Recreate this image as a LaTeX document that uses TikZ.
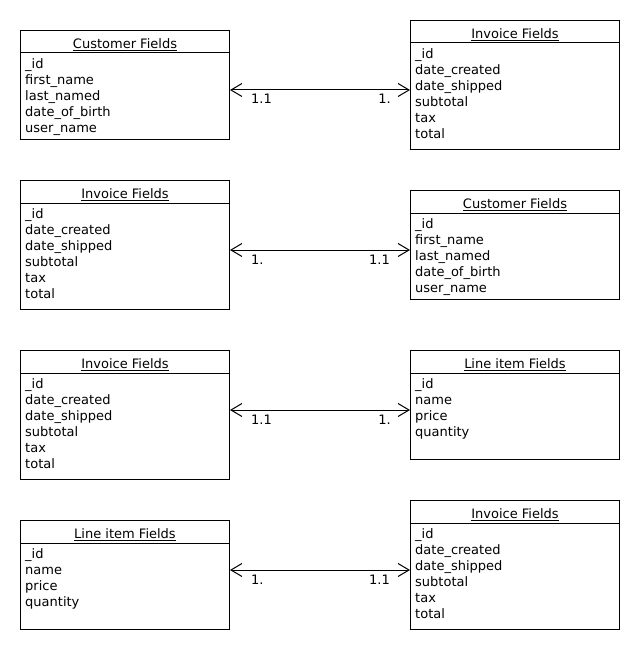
\documentclass[tikz,border=0pt]{standalone}
\usepackage{fontspec}
\setmainfont{DejaVu Sans}
\usetikzlibrary{arrows.meta,calc}
\newcommand\entitybox[6]{%
  \node[box, minimum height=#4pt] (#1) at (#2,#3) {};
  \draw[sepline] ($(#1.north west)+(0,23)$) -- ($(#1.north east)+(0,23)$);
  \node[titletext, anchor=base] (#1t) at ($(#1.north)+(0,18.5)$) {\underline{#5}};
  \node[bodytext, anchor=north west] (#1b) at ($(#1.north west)+(5,28.1)$) {#6};
}
\begin{document}
\begin{tikzpicture}[x=1pt,y=-1pt,
  box/.style={draw, line width=1pt, inner sep=0pt, anchor=north west, minimum width=209pt},
  sepline/.style={line width=1pt},
  titletext/.style={font=\fontsize{13}{16}\selectfont, inner sep=0pt},
  bodytext/.style={font=\fontsize{13}{16}\selectfont, inner sep=0pt, align=left},
  rel/.style={line width=1pt, {Straight Barb[length=11pt,width=13pt]}-{Straight Barb[length=11pt,width=13pt]}},
  card/.style={font=\fontsize{13}{16}\selectfont, inner sep=0pt}
]
\fill[white] (0,0) rectangle (640,650);
\useasboundingbox (0,0) rectangle (640,650);

\def\invoice{\_id\\date\_created\\date\_shipped\\subtotal\\tax\\total}
\def\customer{\_id\\first\_name\\last\_named\\date\_of\_birth\\user\_name}
\def\lineitem{\_id\\name\\price\\quantity}

% row 1
\entitybox{c1}{20}{30}{109}{Customer Fields}{\customer}
\entitybox{i1}{410}{20}{129}{Invoice Fields}{\invoice}
% row 2
\entitybox{i2}{20}{180}{129}{Invoice Fields}{\invoice}
\entitybox{c2}{410}{190}{109}{Customer Fields}{\customer}
% row 3
\entitybox{i3}{20}{350}{129}{Invoice Fields}{\invoice}
\entitybox{l3}{410}{350}{109}{Line item Fields}{\lineitem}
% row 4
\entitybox{l4}{20}{520}{109}{Line item Fields}{\lineitem}
\entitybox{i4}{410}{500}{129}{Invoice Fields}{\invoice}

\coordinate (y1) at (0,90);
\coordinate (y2) at (0,250);
\coordinate (y3) at (0,410);
\coordinate (y4) at (0,570);

\draw[rel] (c1.east |- y1) -- (i1.west |- y1);
\draw[rel] (i2.east |- y2) -- (c2.west |- y2);
\draw[rel] (i3.east |- y3) -- (l3.west |- y3);
\draw[rel] (l4.east |- y4) -- (i4.west |- y4);

\node[card, anchor=base west] (r1a) at ($(c1.east |- y1)+(21,14)$) {1.1};
\node[card, anchor=base east] (r1b) at ($(i1.west |- y1)+(-19,14)$) {1.};
\node[card, anchor=base west] (r2a) at ($(i2.east |- y2)+(21,14)$) {1.};
\node[card, anchor=base east] (r2b) at ($(c2.west |- y2)+(-20,14)$) {1.1};
\node[card, anchor=base west] (r3a) at ($(i3.east |- y3)+(21,14)$) {1.1};
\node[card, anchor=base east] (r3b) at ($(l3.west |- y3)+(-19,14)$) {1.};
\node[card, anchor=base west] (r4a) at ($(l4.east |- y4)+(21,14)$) {1.};
\node[card, anchor=base east] (r4b) at ($(i4.west |- y4)+(-20,14)$) {1.1};
\end{tikzpicture}
\end{document}
